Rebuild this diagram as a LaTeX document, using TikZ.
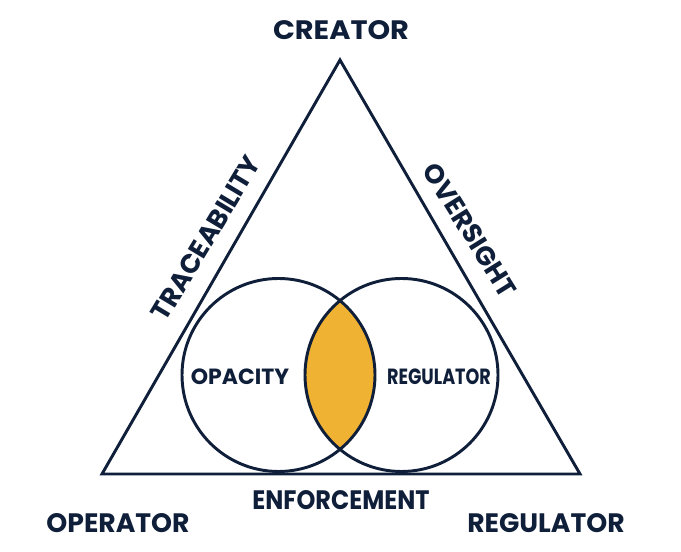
\documentclass[tikz,border=0pt]{standalone}
\usepackage{fontspec}
\setsansfont{Poppins}
\usetikzlibrary{positioning}
\definecolor{navy}{HTML}{0F1F3A}
\definecolor{gold}{HTML}{F0B232}
\tikzset{edge/.style = {draw=navy, line width=2.2pt, line join=miter}}
\tikzset{tag/.style = {text=navy, font=\sffamily\bfseries\fontsize{20}{24}\selectfont, inner sep=0}}
\tikzset{small/.style = {tag, font=\sffamily\bfseries\fontsize{16.5}{20}\selectfont}}

\begin{document}
\begin{tikzpicture}[x=0.75pt,y=0.75pt]
        \useasboundingbox (0,0) rectangle (681,552);
        \coordinate (top) at (340,492);
        \coordinate (left) at (102,78);
        \coordinate (right) at (580,78);
        \coordinate (c1) at (278.5,177);
        \coordinate (c2) at (401.5,177);
        % lens
        \begin{scope}
            \clip (c1) circle [radius=96.5];
            \fill [gold] (c2) circle [radius=96.5];
        \end{scope}
        \draw [edge] (top) -- (left) -- (right) -- cycle;
        \draw [edge] (c1) circle [radius=96.5];
        \draw [edge] (c2) circle [radius=96.5];
        % labels
        \node [tag, xscale=1.08] (creator) at (341,522) {CREATOR};
        \node [tag] (operator) at (118,29) {OPERATOR};
        \node [tag] (regulator) at (546,29) {REGULATOR};
        \node [tag, xscale=0.9] (enforcement) at (341,52) {ENFORCEMENT};
        \node [tag, rotate=59] (traceability) at (206,314) {TRACEABILITY};
        \node [tag, rotate=-58] (oversight) at (470,322) {OVERSIGHT};
        \node [small] (opacity) at (240,175) {OPACITY};
        \node [small, xscale=0.8] (inner) at (439,175) {REGULATOR};
    \end{tikzpicture}
\end{document}
